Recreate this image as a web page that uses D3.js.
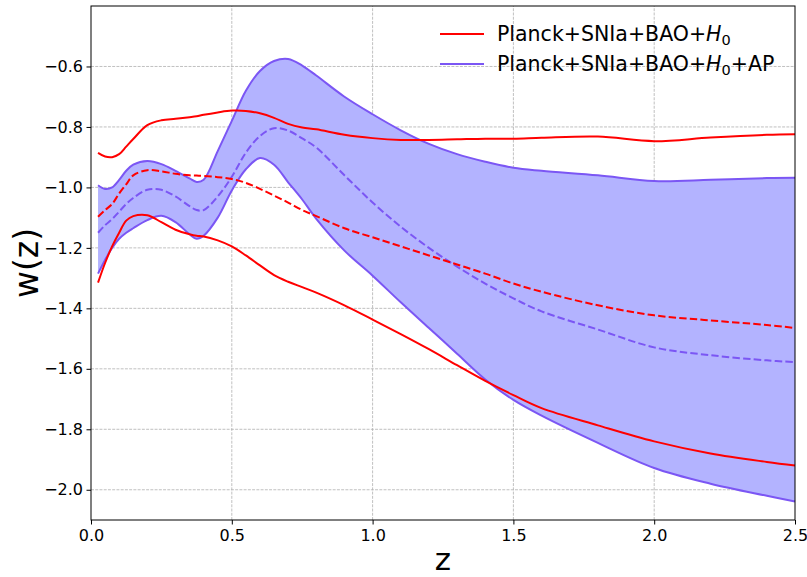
<!DOCTYPE html>
<html>
<head>
<meta charset="utf-8">
<script src="https://cdn.jsdelivr.net/npm/d3@7"></script>
<style>
  body { margin: 0; background: #fff; }
  svg { display: block; font-family: "DejaVu Sans", sans-serif; }
</style>
</head>
<body>
<svg id="chart" width="807" height="577"></svg>
<script>
// w(z) reconstructions: red = Planck+SNIa+BAO+H0, purple = same + AP

const Z = [0.025, 0.05, 0.075, 0.1, 0.125, 0.15, 0.2, 0.25, 0.3, 0.35, 0.375, 0.4, 0.45, 0.5,
  0.55, 0.6, 0.65, 0.7, 0.75, 0.8, 0.9, 1.0, 1.1, 1.2, 1.3, 1.4, 1.5, 1.6, 1.8, 2.0, 2.2, 2.4, 2.5];

const redUpper = [-0.886, -0.898, -0.900, -0.890, -0.865, -0.840, -0.794, -0.778, -0.773, -0.768, -0.765,
  -0.760, -0.752, -0.746, -0.747, -0.755, -0.770, -0.790, -0.802, -0.808, -0.826, -0.837, -0.843,
  -0.843, -0.841, -0.839, -0.839, -0.836, -0.832, -0.847, -0.835, -0.826, -0.824];
const redLower = [-1.315, -1.250, -1.195, -1.150, -1.110, -1.095, -1.092, -1.115, -1.140, -1.155, -1.160,
  -1.162, -1.175, -1.195, -1.225, -1.258, -1.290, -1.312, -1.330, -1.348, -1.390, -1.437, -1.485,
  -1.535, -1.588, -1.640, -1.687, -1.730, -1.787, -1.840, -1.880, -1.908, -1.920];
const redMean = [-1.097, -1.075, -1.055, -1.020, -0.990, -0.960, -0.943, -0.947, -0.955, -0.960, -0.961,
  -0.962, -0.966, -0.972, -0.985, -1.005, -1.027, -1.050, -1.075, -1.095, -1.135, -1.165, -1.195,
  -1.225, -1.255, -1.285, -1.318, -1.345, -1.390, -1.423, -1.440, -1.455, -1.465];

const apUpper = [-0.993, -1.005, -1.000, -0.975, -0.945, -0.925, -0.913, -0.923, -0.945, -0.970, -0.982,
  -0.975, -0.880, -0.780, -0.680, -0.615, -0.582, -0.575, -0.597, -0.630, -0.700, -0.758, -0.811,
  -0.856, -0.890, -0.915, -0.935, -0.945, -0.960, -0.979, -0.975, -0.969, -0.968];
const apLower = [-1.285, -1.240, -1.200, -1.170, -1.150, -1.135, -1.108, -1.094, -1.115, -1.155, -1.170,
  -1.160, -1.100, -1.010, -0.940, -0.903, -0.925, -0.983, -1.040, -1.104, -1.209, -1.292, -1.380,
  -1.465, -1.550, -1.635, -1.703, -1.755, -1.845, -1.928, -1.980, -2.020, -2.039];
const apMean = [-1.150, -1.125, -1.105, -1.080, -1.055, -1.035, -1.008, -1.008, -1.030, -1.062, -1.075,
  -1.075, -1.030, -0.965, -0.885, -0.830, -0.804, -0.812, -0.838, -0.868, -0.960, -1.050, -1.130,
  -1.200, -1.262, -1.318, -1.367, -1.410, -1.470, -1.529, -1.555, -1.572, -1.578];

const xTicks = [0, 0.5, 1.0, 1.5, 2.0, 2.5];
const yTicks = [-2.0, -1.8, -1.6, -1.4, -1.2, -1.0, -0.8, -0.6];
const legendLabels = ["Planck+SNIa+BAO+", "Planck+SNIa+BAO+"];

const RED = "#ff0000", PURPLE = "#7b56f4", FILL = "#b3b3ff";
const M = { left: 91, right: 12, top: 6, bottom: 57 };
const W = 807, H = 577;

const svg = d3.select("#chart");
const x = d3.scaleLinear().domain([0, 2.5]).range([M.left, W - M.right]);
const y = d3.scaleLinear().domain([-2.1, -0.4]).range([H - M.bottom, M.top]);

const fmt = (v) => d3.format(".1f")(v).replace("-", "\u2212");

// grid
const grid = svg.append("g").attr("stroke", "#b0b0b0").attr("stroke-width", 0.8)
  .attr("stroke-dasharray", "2.96 1.28");
grid.selectAll("line.gx").data(xTicks.slice(1, -1)).join("line")
  .attr("x1", (d) => x(d)).attr("x2", (d) => x(d)).attr("y1", y(-2.1)).attr("y2", y(-0.4));
grid.selectAll("line.gy").data(yTicks).join("line")
  .attr("x1", x(0)).attr("x2", x(2.5)).attr("y1", (d) => y(d)).attr("y2", (d) => y(d));

const rows = Z.map((z, i) => ({ z, ru: redUpper[i], rl: redLower[i], rm: redMean[i],
  au: apUpper[i], al: apLower[i], am: apMean[i] }));

const curve = d3.curveCatmullRom.alpha(0.5);
const plot = svg.append("g");

plot.append("path").datum(rows)
  .attr("fill", FILL)
  .attr("d", d3.area().curve(curve).x((d) => x(d.z)).y0((d) => y(d.al)).y1((d) => y(d.au)));

const line = (key) => d3.line().curve(curve).x((d) => x(d.z)).y((d) => y(d[key]));
const series = [
  { key: "au", color: PURPLE, dash: null },
  { key: "al", color: PURPLE, dash: null },
  { key: "am", color: PURPLE, dash: "7.4 3.2" },
  { key: "ru", color: RED, dash: null },
  { key: "rl", color: RED, dash: null },
  { key: "rm", color: RED, dash: "7.4 3.2" },
];
series.forEach((s) => {
  plot.append("path").datum(rows)
    .attr("fill", "none").attr("stroke", s.color).attr("stroke-width", 2)
    .attr("stroke-dasharray", s.dash)
    .attr("d", line(s.key)(rows));
});

// axes
const xAxis = svg.append("g").attr("transform", `translate(0,${y(-2.1)})`)
  .call(d3.axisBottom(x).tickValues(xTicks).tickFormat(d3.format(".1f")).tickSizeOuter(0).tickSize(4.5));
const yAxis = svg.append("g").attr("transform", `translate(${x(0)},0)`)
  .call(d3.axisLeft(y).tickValues(yTicks).tickFormat(fmt).tickSizeOuter(0).tickSize(4.5));
[xAxis, yAxis].forEach((a) => {
  a.selectAll("text").style("font-size", "16px").attr("fill", "#000")
    .style("font-family", "'DejaVu Sans', sans-serif");
  a.selectAll("line").attr("stroke", "#000").attr("stroke-width", 1);
  a.select(".domain").remove();
});
xAxis.selectAll("text").attr("dy", "0.71em").attr("y", 10);
yAxis.selectAll("text").attr("x", -8);

// frame
svg.append("rect").attr("x", x(0)).attr("y", y(-0.4))
  .attr("width", x(2.5) - x(0)).attr("height", y(-2.1) - y(-0.4))
  .attr("fill", "none").attr("stroke", "#000").attr("stroke-width", 1);

// axis labels
svg.append("text").attr("x", (x(0) + x(2.5)) / 2).attr("y", 570)
  .attr("text-anchor", "middle").style("font-size", "31px").text("z");
svg.append("text").attr("transform", `translate(38,${(y(-2.1) + y(-0.4)) / 2}) rotate(-90)`)
  .attr("text-anchor", "middle").style("font-size", "33px").text("w(z)");

// legend
const lg = svg.append("g").attr("transform", "translate(440,34)");
[RED, PURPLE].forEach((c, i) => {
  const row = lg.append("g").attr("transform", `translate(0,${i * 30})`);
  row.append("line").attr("x1", 0).attr("x2", 44).attr("stroke", c).attr("stroke-width", 2);
  const t = row.append("text").attr("x", 57).attr("y", 7).style("font-size", "20.5px");
  t.append("tspan").text(legendLabels[i]);
  t.append("tspan").style("font-style", "italic").text("H");
  t.append("tspan").attr("dy", 4).style("font-size", "14.5px").text("0");
  if (i === 1) t.append("tspan").attr("dy", -4).text("+AP");
});
</script>
</body>
</html>
